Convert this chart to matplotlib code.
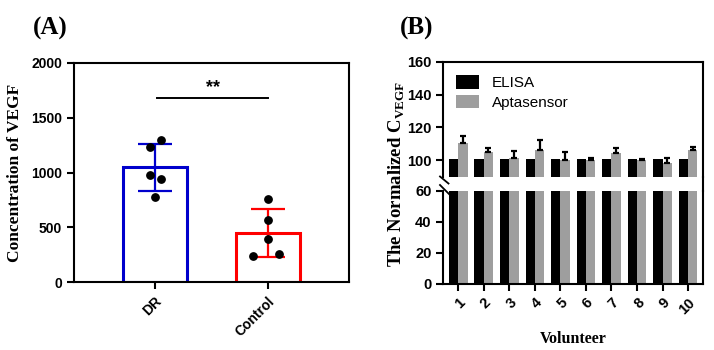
import numpy as np
import matplotlib
matplotlib.use("Agg")
import matplotlib.pyplot as plt
from matplotlib.lines import Line2D

# panel A data
groups_a = ["DR", "Control"]
means_a = [1050, 450]
sd_a = [215, 220]
pts_dr = [1234, 1295, 978, 937, 775]
pts_ctrl = [760, 565, 395, 234, 258]
jit_dr = [-0.04, 0.05, -0.04, 0.05, 0.0]
jit_ctrl = [0.0, 0.0, 0.0, -0.13, 0.1]
colors_a = ["#0000cc", "#ff0000"]

# panel B data
volunteers = ["1", "2", "3", "4", "5", "6", "7", "8", "9", "10"]
elisa = [101, 101, 101, 101, 101, 101, 101, 101, 101, 101]
apta = [110.5, 104.9, 101.2, 106.5, 99.8, 100.2, 104.5, 99.8, 98.4, 106.3]
apta_err = [4.5, 2.4, 4.3, 6.1, 4.9, 1.0, 3.0, 1.0, 3.2, 1.5]

SANS = "Liberation Sans"
SERIF = "Liberation Serif"
plt.rcParams["mathtext.fontset"] = "custom"
plt.rcParams["mathtext.rm"] = "Liberation Serif"
plt.rcParams["mathtext.bf"] = "Liberation Serif:bold"

fig = plt.figure(figsize=(7.14, 3.5), dpi=100)

# ---------------- panel A ----------------
ax = fig.add_axes([0.1036, 0.194, 0.385, 0.626])
xa = np.arange(len(groups_a))
for i in range(2):
    ax.bar(xa[i], means_a[i], width=0.57, facecolor="white",
           edgecolor=colors_a[i], linewidth=2.2, zorder=2)
    ax.errorbar(xa[i], means_a[i], yerr=sd_a[i], color=colors_a[i],
                capsize=12, elinewidth=1.6, capthick=1.6, fmt="none", zorder=3)
ax.scatter(xa[0] + np.array(jit_dr), pts_dr, s=28, color="black", zorder=4)
ax.scatter(xa[1] + np.array(jit_ctrl), pts_ctrl, s=28, color="black", zorder=4)
ax.plot([0.02, 1.0], [1681, 1681], color="black", lw=1.4)
ax.text(0.51, 1780, "**", ha="center", va="center", fontsize=13,
        fontweight="bold", family=SANS)
ax.set_xlim(-0.717, 1.717)
ax.set_ylim(0, 2000)
ax.set_yticks([0, 500, 1000, 1500, 2000])
ax.set_xticks(xa)
ax.set_xticklabels(groups_a, rotation=45, ha="right", rotation_mode="anchor")
for lab in ax.get_xticklabels() + ax.get_yticklabels():
    lab.set_fontweight("bold")
    lab.set_family(SANS)
    lab.set_fontsize(10)
for s in ax.spines.values():
    s.set_linewidth(1.5)
ax.tick_params(width=1.5, length=5, direction="out")
ax.set_ylabel("Concentration of VEGF", family=SERIF, fontweight="bold",
              fontsize=12.5, labelpad=6)
fig.text(0.046, 0.92, "(A)", family=SERIF, fontweight="bold", fontsize=18,
         ha="left", va="center")

# ---------------- panel B ----------------
xb = np.arange(len(volunteers))
bw = 0.365
axu = fig.add_axes([0.621, 0.4957, 0.3635, 0.3272])
axl = fig.add_axes([0.621, 0.1886, 0.3635, 0.2671])
for a in (axu, axl):
    a.bar(xb - bw / 2, elisa, width=bw, color="black", label="ELISA", zorder=2)
    a.bar(xb + bw / 2, apta, width=bw, color="#9e9e9e", label="Aptasensor", zorder=2)
    a.set_xlim(-0.58, 9.58)
    for s in a.spines.values():
        s.set_linewidth(1.5)
    a.tick_params(width=1.5, length=5, direction="out")
axu.errorbar(xb + bw / 2, apta, yerr=[np.zeros(len(apta)), apta_err],
             fmt="none", ecolor="black", elinewidth=1.6, capsize=2, capthick=1.6,
             zorder=3)
axu.set_ylim(90, 160)
axu.set_yticks([100, 120, 140, 160])
axu.set_xticks([])
axu.spines["bottom"].set_visible(False)
axl.set_ylim(0, 60)
axl.set_yticks([0, 20, 40, 60])
axl.spines["top"].set_visible(False)
axl.set_xticks(xb)
axl.set_xticklabels(volunteers, rotation=45, ha="right", rotation_mode="anchor")
for lab in axu.get_yticklabels() + axl.get_yticklabels() + axl.get_xticklabels():
    lab.set_fontweight("bold")
    lab.set_family(SANS)
    lab.set_fontsize(10.5)
leg = axu.legend(loc="upper left", frameon=False, prop={"family": SANS, "size": 11},
                 handlelength=1.5, handleheight=1.0, borderaxespad=0.45,
                 labelspacing=0.3, handletextpad=0.8)
axl.set_xlabel("Volunteer", family=SERIF, fontweight="bold", fontsize=11.5,
               labelpad=10)

# right spine through the gap and break marks
W, H = 714.0, 350.0
fig.add_artist(Line2D([703 / W, 703 / W], [1 - 176.5 / H, 1 - 190.5 / H],
                      color="black", lw=1.5))
fig.add_artist(Line2D([440 / W, 448.5 / W], [1 - 176.5 / H, 1 - 183.5 / H],
                      color="black", lw=1.3))
fig.add_artist(Line2D([440 / W, 450 / W], [1 - 185 / H, 1 - 195 / H],
                      color="black", lw=1.3))

fig.text(397 / W, 1 - 174 / H, r"The Normalized C$_{\mathbf{VEGF}}$",
         family=SERIF, fontweight="bold", fontsize=13.5, rotation=90,
         ha="center", va="center")
fig.text(400 / W, 0.92, "(B)", family=SERIF, fontweight="bold", fontsize=18,
         ha="left", va="center")

fig.savefig("out.png", dpi=100)
